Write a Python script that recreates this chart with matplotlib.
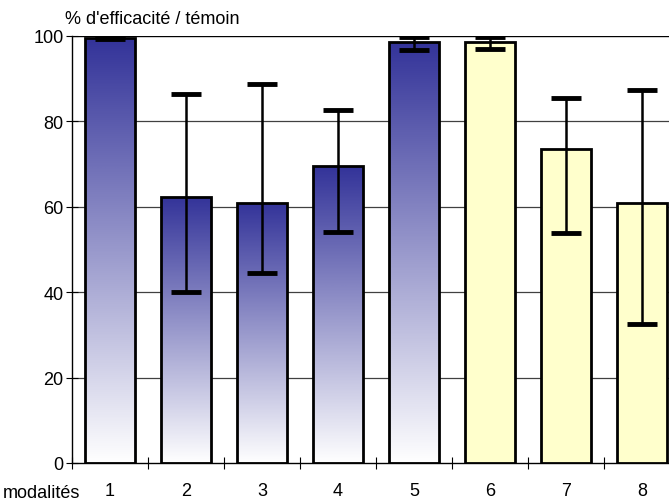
"""Efficacité par modalité, barres avec écarts"""

import matplotlib.pyplot as plt
import numpy as np
from matplotlib.colors import LinearSegmentedColormap

plt.rcParams['font.family'] = ['Liberation Sans', 'DejaVu Sans']

modalites = ["1", "2", "3", "4", "5", "6", "7", "8"]
efficacite = [99.5, 62.3, 61.0, 69.5, 98.7, 98.6, 73.6, 61.0]
err_bas = [99.2, 40.0, 44.6, 54.2, 96.8, 97.0, 53.8, 32.6]
err_haut = [99.8, 86.4, 88.8, 82.6, 99.8, 99.8, 85.4, 87.4]
groupe = ["bleu"] * 5 + ["jaune"] * 3

fig = plt.figure(figsize=(6.69, 5.02), dpi=100)
ax = fig.add_axes([72 / 669, 38 / 502, 608 / 669, 427 / 502])

x = np.arange(len(modalites))
width = 0.67
blue_cmap = LinearSegmentedColormap.from_list("grad", ["#ffffff", "#333399"])
grad = np.linspace(0, 1, 256).reshape(-1, 1)

# grid first, behind bars
for yv in [20, 40, 60, 80]:
    ax.axhline(yv, color="#404040", lw=0.9, zorder=0)
ax.axhline(100, color="black", lw=1.0, zorder=0)

for i, (val, g) in enumerate(zip(efficacite, groupe)):
    if g == "bleu":
        bar = ax.bar(x[i], val, width, facecolor="none", edgecolor="black",
                     linewidth=2.0, zorder=3)[0]
        im = ax.imshow(grad, cmap=blue_cmap, aspect="auto", origin="lower",
                       extent=[x[i] - width / 2, x[i] + width / 2, 0, val],
                       zorder=2)
        im.set_clip_path(bar)
    else:
        ax.bar(x[i], val, width, facecolor="#ffffcc", edgecolor="black",
               linewidth=2.0, zorder=3)

yerr = [np.array(efficacite) - np.array(err_bas),
        np.array(err_haut) - np.array(efficacite)]
ax.errorbar(x, efficacite, yerr=yerr, fmt="none", ecolor="black",
            elinewidth=1.8, capsize=11, capthick=3.5, zorder=4)

ax.set_xlim(-0.5, len(modalites) - 0.5)
ax.set_ylim(0, 100)
ax.set_yticks([0, 20, 40, 60, 80, 100])
ax.set_xticks(x)
ax.set_xticklabels(modalites)
ax.set_xticks(np.arange(len(modalites)) - 0.5, minor=True)
ax.tick_params(axis="x", which="major", length=0, pad=14, labelsize=13)
ax.tick_params(axis="x", which="minor", direction="inout", length=8, width=0.8)
ax.tick_params(axis="y", direction="inout", length=8, width=0.8, labelsize=13,
               pad=2)

for s in ["top", "right"]:
    ax.spines[s].set_visible(False)
ax.spines["left"].set_linewidth(1.0)
ax.spines["bottom"].set_linewidth(1.0)

fig.text(65 / 669, 1 - 20 / 502, "% d'efficacité / témoin", fontsize=13,
         va="center", ha="left")
fig.text(3 / 669, 1 - 494 / 502, "modalités", fontsize=13, va="center",
         ha="left")

fig.savefig("out.png", dpi=100)
